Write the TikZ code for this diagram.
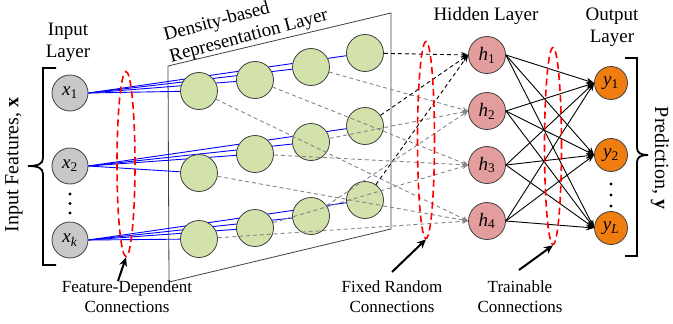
\documentclass[tikz,border=0pt]{standalone}
\usepackage{fontspec}
\setmainfont{Liberation Serif}
\usetikzlibrary{arrows.meta,shapes.geometric}
\pgfdeclarelayer{bg}
\pgfsetlayers{bg,main}
\newcommand{\vsub}[2]{\textit{#1}\textsubscript{#2}}
\definecolor{gfill}{HTML}{D3E2AA}
\definecolor{hfill}{HTML}{E49D9D}
\definecolor{yfill}{HTML}{F07D10}
\definecolor{xfill}{HTML}{C8C8C8}
\definecolor{edgec}{HTML}{404040}
\definecolor{dgray}{HTML}{858585}
\begin{document}
\begin{tikzpicture}[x=1pt,y=-1pt,
 neuron/.style={circle,draw=edgec,line width=0.8pt,inner sep=0pt,minimum size=37pt,font=\fontsize{19}{21}\selectfont},
 xnode/.style={neuron,fill=xfill,minimum size=36pt},
 gnode/.style={neuron,fill=gfill},
 hnode/.style={neuron,fill=hfill},
 ynode/.style={neuron,fill=yfill,minimum size=33pt},
 head/.style={font=\fontsize{19}{22}\selectfont,align=center,inner sep=0pt},
 note/.style={font=\fontsize{17}{20}\selectfont,align=center,inner sep=0pt},
 redell/.style={ellipse,draw=red,line width=1.6pt,dash pattern=on 7pt off 4pt,inner sep=0pt},
 blueline/.style={blue,line width=0.9pt},
 randgray/.style={dgray,line width=0.9pt,dash pattern=on 4pt off 3pt,-{Stealth[length=6pt,width=5pt]}},
 randblack/.style={black,line width=0.9pt,dash pattern=on 4pt off 3pt,-{Stealth[length=7pt,width=6pt]}},
 trained/.style={black,line width=0.9pt,-{Stealth[length=8pt,width=6pt]}},
 pointer/.style={black,line width=2pt,-{Stealth[length=9pt,width=8pt]}},
 bracket/.style={black,line width=1.8pt}
]
\useasboundingbox (0,0) rectangle (673,324);

% input nodes
\node[xnode] (x1) at (70,93) {\vsub{x}{1}};
\node[xnode] (x2) at (70,166) {\vsub{x}{2}};
\node[xnode] (xk) at (70,240) {\vsub{x}{\textit{k}}};

% density-based nodes
\node[gnode] (g11) at (199,91) {};
\node[gnode] (g12) at (255,80) {};
\node[gnode] (g13) at (311,67) {};
\node[gnode] (g14) at (365,53) {};
\node[gnode] (g21) at (199,173) {};
\node[gnode] (g22) at (255,154) {};
\node[gnode] (g23) at (311,142) {};
\node[gnode] (g24) at (365,126) {};
\node[gnode] (g31) at (199,239) {};
\node[gnode] (g32) at (255,228) {};
\node[gnode] (g33) at (311,216) {};
\node[gnode] (g34) at (365,200) {};

% hidden nodes
\node[hnode] (h1) at (487,55) {\vsub{h}{1}};
\node[hnode] (h2) at (487,111) {\vsub{h}{2}};
\node[hnode] (h3) at (487,165) {\vsub{h}{3}};
\node[hnode] (h4) at (487,221) {\vsub{h}{4}};

% output nodes
\node[ynode] (y1) at (611,83) {\vsub{y}{1}};
\node[ynode] (y2) at (611,155) {\vsub{y}{2}};
\node[ynode] (yL) at (611,228) {\vsub{y}{\textit{L}}};

\begin{pgfonlayer}{bg}
 \draw[edgec,line width=0.8pt] (168,66) -- (391,13) -- (391,229) -- (169,282) -- cycle;
 \foreach \r/\s in {1/x1,2/x2,3/xk}{
  \foreach \c in {1,2,3,4}{
   \draw[blueline] (\s.east) -- (g\r\c.center);
  }
 }
\end{pgfonlayer}

% fixed random connections
\foreach \r in {1,2,3}{
 \draw[randblack] (g\r4) -- (h1.west);
 \draw[randgray] (g\r3) -- (h2.west);
 \draw[randgray] (g\r2) -- (h3.west);
 \draw[randgray] (g\r1) -- (h4.west);
}

% trainable connections
\foreach \h in {h1,h2,h3,h4}{
 \foreach \y in {y1,y2,yL}{
  \draw[trained] (\h.east) -- (\y.west);
 }
}

% ellipses
\node[redell,minimum width=18pt,minimum height=185pt] (e1) at (126,164) {};
\node[redell,minimum width=17pt,minimum height=197pt] (e2) at (426,140) {};
\node[redell,minimum width=17pt,minimum height=197pt] (e3) at (553,146) {};

% dots
\fill (70,194) circle (1.7pt);
\fill (70,203.5) circle (1.7pt);
\fill (70,213) circle (1.7pt);
\fill (611,184) circle (1.7pt);
\fill (611,195) circle (1.7pt);
\fill (611,206) circle (1.7pt);

% brackets
\draw[bracket] (56,68) -- (43,68) -- (43,158) .. controls (43,164) and (38,166) .. (28,166) .. controls (38,166) and (43,168) .. (43,174) -- (43,265) -- (56,265);
\draw[bracket] (625,58) -- (637,58) -- (637,148) .. controls (637,153) and (641,155) .. (648,155) .. controls (641,155) and (637,157) .. (637,162) -- (637,256) -- (625,256);

% headings
\node[head] (tin) at (68,42) {Input\\Layer};
\node[head,anchor=base] (thid) at (486,20) {Hidden Layer};
\node[head] (tout) at (612,27) {Output\\Layer};
\node[head,align=left,rotate=15,anchor=north west] (tden) at (162,28) {Density-based\\Representation Layer};
\node[font=\fontsize{20}{22}\selectfont,rotate=90,inner sep=0pt] (tif) at (14,165) {Input Features, \textbf{x}};
\node[font=\fontsize{20}{22}\selectfont,rotate=-90,inner sep=0pt] (tpr) at (660,158) {Prediction, \textbf{y}};

% notes
\node[note] (n1) at (127,297) {Feature-Dependent\\Connections};
\node[note] (n2) at (392,297) {Fixed Random\\Connections};
\node[note] (n3) at (520,297) {Trainable\\Connections};

\coordinate (p1) at (118,281);
\coordinate (p2) at (392,272);
\coordinate (p3) at (519,270);
\draw[pointer] (p1) -- (e1.south);
\draw[pointer] (p2) -- (e2.south);
\draw[pointer] (p3) -- (e3.south);
\end{tikzpicture}
\end{document}
